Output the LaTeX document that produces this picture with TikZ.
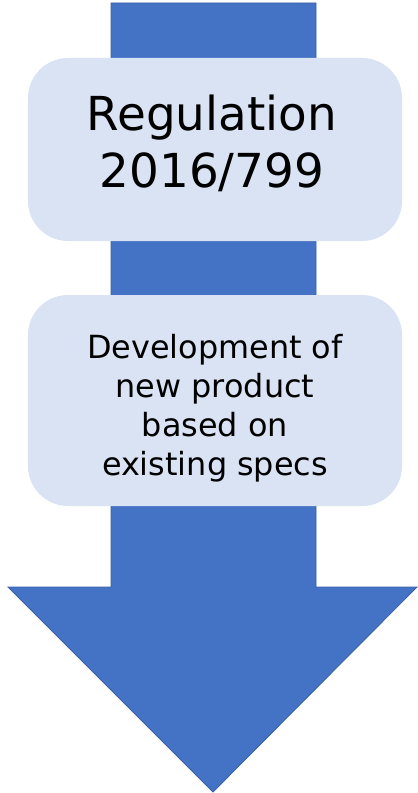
\documentclass[tikz,border=0pt]{standalone}
\usepackage{fontspec}
\setmainfont{DejaVu Sans}
\definecolor{arrowblue}{HTML}{4472C4}
\definecolor{arrowedge}{HTML}{3A62A8}
\definecolor{boxfill}{HTML}{DAE3F3}
\begin{document}
\begin{tikzpicture}[x=1bp, y=-1bp]
        \tikzstyle{stagebox}=[fill=boxfill,draw=none,rounded corners=40bp,minimum width=374bp,inner sep=0pt]
        \tikzstyle{stagetext}=[align=center,inner sep=0pt,text=black]

        \useasboundingbox (0,0) rectangle (417,793);

        % big arrow behind the boxes
        \draw[fill=arrowblue, draw=arrowedge, line width=0.8bp] (111,3) -- (316,3) -- (316,587) -- (417,587)
            -- (213,792) -- (8,587) -- (111,587) -- cycle;

        \node (reg)[stagebox, minimum height=183bp] at (215,149.5) {};
        \node (dev)[stagebox, minimum height=211bp] at (215,400.5) {};

        \node (regtxt)[stagetext, font=\fontsize{47}{57}\selectfont] at (212,143) {Regulation\\2016/799};
        \node (devtxt)[stagetext, font=\fontsize{32}{39}\selectfont] at (215,408) {Development of\\new product\\based on\\existing specs};
    \end{tikzpicture}
\end{document}
